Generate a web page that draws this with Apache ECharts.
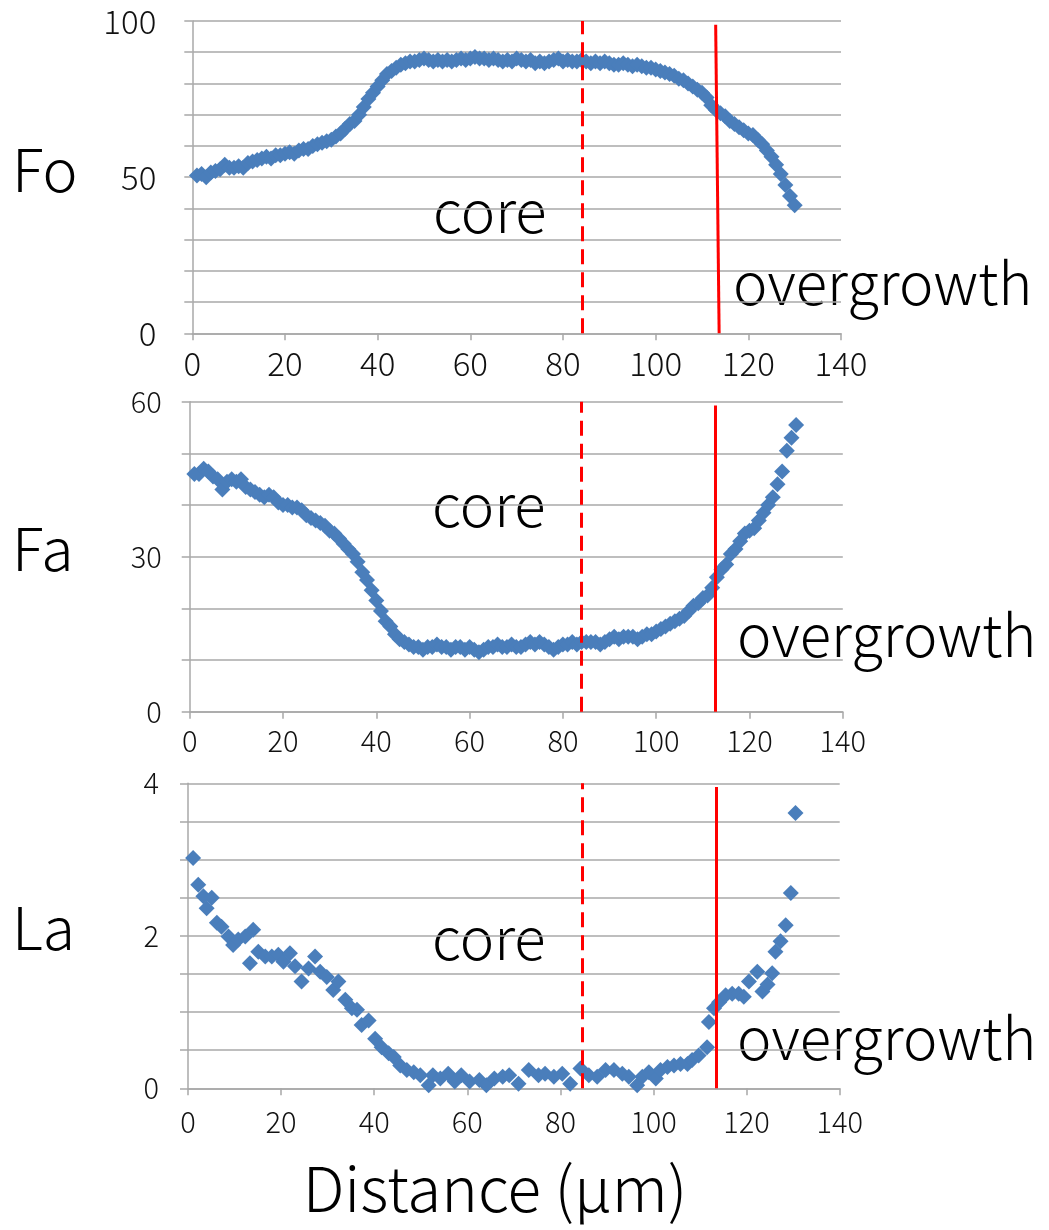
<!DOCTYPE html>
<html>
<head>
<meta charset="utf-8">
<script src="https://cdn.jsdelivr.net/npm/echarts@6/dist/echarts.min.js"></script>
<style>
  html, body { margin: 0; background: #fff; }
  #chart { width: 1049px; height: 1230px; }
</style>
</head>
<body>
<div id="chart"></div>
<script>
// distance (um) of the Fo / Fa spots
const distance = [
  1, 2, 3, 4, 5, 6, 7, 8, 9, 10,
  11, 12, 13, 14, 15, 16, 17, 18, 19, 20,
  21, 22, 23, 24, 25, 26, 27, 28, 29, 30,
  31, 32, 33, 34, 35, 36, 37, 38, 39, 40,
  41, 42, 43, 44, 45, 46, 47, 48, 49, 50,
  51, 52, 53, 54, 55, 56, 57, 58, 59, 60,
  61, 62, 63, 64, 65, 66, 67, 68, 69, 70,
  71, 72, 73, 74, 75, 76, 77, 78, 79, 80,
  81, 82, 83, 84, 85, 86, 87, 88, 89, 90,
  91, 92, 93, 94, 95, 96, 97, 98, 99, 100,
  101, 102, 103, 104, 105, 106, 107, 108, 109, 110,
  111, 112, 113, 114, 115, 116, 117, 118, 119, 120,
  121, 122, 123, 124, 125, 126, 127, 128, 129, 130
];
const foVal = [
  50.5, 51, 50, 51.5, 52, 52.5, 54, 53, 53, 53.5,
  53, 54.5, 55, 55.5, 56, 56.5, 56, 57, 57, 57.5,
  58, 57.5, 58.5, 59, 59, 60, 60.5, 61, 61.5, 62,
  63, 64, 65.5, 67, 68, 70, 72.5, 75, 77, 79,
  81, 83, 84, 85, 86, 86.5, 87, 87, 87.5, 88,
  87.5, 87, 87.5, 87, 87.5, 87, 87.5, 88, 87.5, 88,
  88.5, 88, 88, 87.5, 88, 87.5, 87, 87.5, 87, 88,
  87.5, 87, 87.5, 86.5, 87, 86.5, 87, 87.5, 88, 87,
  87.5, 87, 87, 87.5, 87, 86.5, 87, 86.5, 87, 86.5,
  86, 86, 86.5, 86, 85.5, 86, 85.5, 85, 85, 84.5,
  84, 83.5, 83, 82.5, 81.5, 81, 80, 79, 78, 77,
  75.5, 73, 71.5, 70.5, 69.5, 68, 67, 66, 65, 64,
  63.5, 62, 60.5, 58.5, 56.5, 54, 51, 47.5, 44, 41
];
const faVal = [
  46, 46, 47, 46.5, 45.5, 45, 43, 44.5, 45, 44.5,
  45, 43.5, 43, 42.5, 42, 41.5, 42, 41.5, 40.5, 40,
  40, 39.5, 39.5, 39, 38, 37.5, 37, 36.5, 36, 35,
  34.5, 33.5, 32.5, 31.5, 30.5, 29, 27, 25.5, 23.5, 21.5,
  19.5, 17.5, 16.5, 15, 14, 13.5, 13, 12.5, 12.5, 12,
  12.5, 12.5, 13, 12.5, 12.5, 12, 12.5, 12.5, 12, 12.5,
  12, 11.5, 12, 12.5, 12.5, 13, 12.5, 12.5, 13, 12.5,
  12.5, 13, 13.5, 13, 13.5, 13, 12.5, 12, 12.5, 13,
  13, 13.5, 13, 13.5, 13.5, 13.5, 13.5, 13, 13.5, 14,
  14.5, 14, 14.5, 14.5, 14.5, 14, 14.5, 15, 15, 15.5,
  16, 16.5, 17, 17.5, 18, 18.5, 19.5, 20.5, 21, 22,
  22.5, 24, 26, 27.5, 28.5, 30.5, 31.5, 33, 34.5, 35,
  35.5, 37, 38.5, 40, 41.5, 44, 46.5, 50.5, 53, 55.5
];
// La spots are spaced irregularly
const laDist = [
  1.1, 2.2, 3.3, 4.0, 5.1, 6.2, 7.2, 8.7, 9.7, 10.8,
  12.3, 13.3, 14.0, 15.1, 16.6, 18.0, 19.4, 20.5, 21.9, 23.0,
  24.4, 25.9, 27.3, 28.4, 29.8, 31.2, 32.3, 33.8, 35.2, 36.3,
  37.3, 38.8, 40.2, 41.6, 43.1, 44.2, 45.6, 47.0, 48.5, 49.9,
  51.7, 52.6, 54.2, 55.9, 57.3, 58.7, 60.5, 62.6, 64.1, 65.8,
  67.6, 69.0, 71.0, 73.2, 75.3, 76.7, 78.6, 80.4, 82.1, 84.3,
  86.1, 87.9, 89.7, 91.5, 93.3, 94.7, 96.5, 97.6, 99.0, 100.5,
  101.5, 103.0, 104.4, 105.8, 107.3, 108.3, 109.7, 111.5, 111.9, 113.0,
  114.1, 115.5, 116.9, 118.3, 119.4, 120.5, 122.3, 123.4, 124.5, 125.5,
  126.2, 127.3, 128.4, 129.5, 130.5
];
const laVal = [
  3.02, 2.67, 2.52, 2.36, 2.50, 2.17, 2.12, 1.99, 1.88, 1.95,
  1.99, 1.64, 2.08, 1.79, 1.73, 1.73, 1.75, 1.66, 1.77, 1.60,
  1.40, 1.57, 1.73, 1.53, 1.46, 1.29, 1.40, 1.16, 1.05, 1.03,
  0.83, 0.89, 0.65, 0.54, 0.46, 0.41, 0.30, 0.24, 0.21, 0.17,
  0.04, 0.17, 0.13, 0.19, 0.09, 0.17, 0.09, 0.11, 0.04, 0.13,
  0.15, 0.17, 0.06, 0.24, 0.17, 0.19, 0.15, 0.19, 0.06, 0.26,
  0.17, 0.15, 0.24, 0.24, 0.19, 0.15, 0.04, 0.15, 0.21, 0.13,
  0.24, 0.28, 0.30, 0.32, 0.32, 0.37, 0.43, 0.54, 0.87, 1.05,
  1.13, 1.22, 1.24, 1.24, 1.20, 1.40, 1.53, 1.27, 1.36, 1.51,
  1.79, 1.93, 2.14, 2.56, 3.61
];

const foTicks = [0, 50, 100];
const faTicks = [0, 30, 60];
const laTicks = [0, 2, 4];

// core / overgrowth boundaries for each panel
const coreEdge = [84.1, 84.0, 84.8];
const rimEdgeTop = [112.95, 112.7, 113.5];
const rimEdgeBottom = [113.7, 112.7, 113.5];

const FONT = "'Noto Sans CJK JP', 'Noto Sans', sans-serif";
const BLUE = "#4a7ebb";
const GRID_GRAY = "#a8a8a8";

const pairs = (xs, ys) => xs.map((x, i) => [x, ys[i]]);

const xAxisOf = (idx, fontSize, margin) => ({
  type: "value",
  gridIndex: idx,
  min: 0,
  max: 140,
  interval: 20,
  axisLine: { show: true, lineStyle: { color: GRID_GRAY, width: 1.5 } },
  axisTick: { show: true, length: 7, lineStyle: { color: GRID_GRAY, width: 1.5 } },
  splitLine: { show: false },
  axisLabel: { fontSize: fontSize, color: "#111", fontFamily: FONT, fontWeight: 300, margin: margin },
});

const yAxisOf = (idx, max, interval, ticks, fontSize, margin) => ({
  type: "value",
  gridIndex: idx,
  min: 0,
  max: max,
  interval: interval,
  axisLine: { show: true, lineStyle: { color: GRID_GRAY, width: 1.5 } },
  axisTick: { show: true, length: 8, lineStyle: { color: GRID_GRAY, width: 1.5 } },
  splitLine: { show: true, lineStyle: { color: GRID_GRAY, width: 1.5 } },
  axisLabel: {
    fontSize: fontSize,
    color: "#111",
    fontFamily: FONT,
    fontWeight: 300,
    margin: margin,
    formatter: v => (ticks.includes(v) ? String(v) : ""),
  },
});

const boundaryLines = (i, yMax) => ({
  silent: true,
  symbol: ["none", "none"],
  label: { show: false },
  animation: false,
  z: 5,
  lineStyle: { color: "#ff0000", width: 3, type: "solid" },
  data: [
    [
      { coord: [coreEdge[i], 0], lineStyle: { color: "#ff0000", width: 3, type: [15, 8] } },
      { coord: [coreEdge[i], yMax] },
    ],
    [
      { coord: [rimEdgeBottom[i], 0], lineStyle: { color: "#ff0000", width: 3, type: "solid" } },
      { coord: [rimEdgeTop[i], yMax * 0.988] },
    ],
  ],
});

const scatterOf = (idx, data, yMax) => ({
  type: "scatter",
  xAxisIndex: idx,
  yAxisIndex: idx,
  symbol: "diamond",
  symbolSize: 16,
  itemStyle: { color: BLUE, opacity: 1 },
  data: data,
  animation: false,
  markLine: boundaryLines(idx, yMax),
});

const bigText = (text, x, y, size) => ({
  type: "text",
  x: x,
  y: y,
  style: {
    text: text,
    fontSize: size,
    fontFamily: FONT,
    fontWeight: 300,
    fill: "#000",
    textVerticalAlign: "middle",
    verticalAlign: "middle",
  },
});

const chart = echarts.init(document.getElementById("chart"));
chart.setOption({
  backgroundColor: "#fff",
  animation: false,
  grid: [
    { left: 192.3, top: 21, width: 648.7, height: 312.3 },
    { left: 189.7, top: 401.7, width: 653.1, height: 310 },
    { left: 188, top: 783.3, width: 651.7, height: 305 },
  ],
  xAxis: [xAxisOf(0, 33, 14), xAxisOf(1, 29, 15), xAxisOf(2, 29, 19)],
  yAxis: [
    yAxisOf(0, 100, 10, foTicks, 33, 36),
    yAxisOf(1, 60, 10, faTicks, 29, 28),
    yAxisOf(2, 4, 0.5, laTicks, 29, 29),
  ],
  series: [
    scatterOf(0, pairs(distance, foVal), 100),
    scatterOf(1, pairs(distance, faVal), 60),
    scatterOf(2, pairs(laDist, laVal), 4),
  ],
  graphic: [
    bigText("Fo", 12, 170, 59),
    bigText("Fa", 12, 549, 59),
    bigText("La", 12, 928, 59),
    bigText("core", 433, 211, 58),
    bigText("core", 432, 505, 58),
    bigText("core", 432, 938, 58),
    bigText("overgrowth", 733, 283, 58),
    bigText("overgrowth", 737, 635, 58),
    bigText("overgrowth", 737, 1038, 58),
    {
      type: "text",
      x: 495,
      y: 1188,
      style: {
        text: "Distance (μm)",
        fontSize: 62,
        fontFamily: FONT,
        fontWeight: 300,
        fill: "#000",
        textAlign: "center",
        align: "center",
        textVerticalAlign: "middle",
        verticalAlign: "middle",
      },
    },
  ],
});
</script>
</body>
</html>
